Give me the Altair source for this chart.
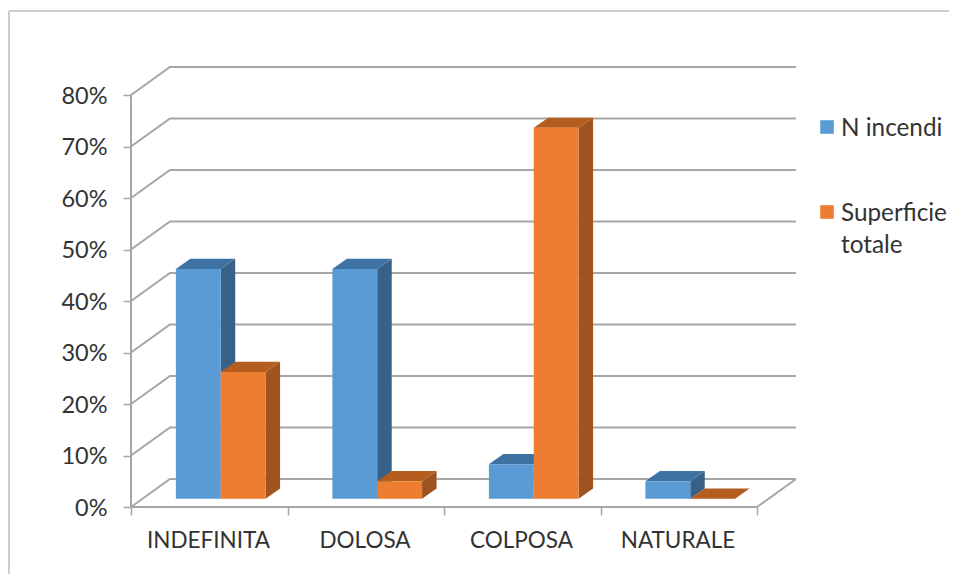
import altair as alt
import pandas as pd

categories = ["INDEFINITA", "DOLOSA", "COLPOSA", "NATURALE"]
series = ["N incendi", "Superficie totale"]
n_incendi = [44.6, 44.6, 6.7, 3.4]
superficie = [24.6, 3.4, 72.0, 0.0]
ticks = [0, 10, 20, 30, 40, 50, 60, 70, 80]

FONT = "Lato"
TXT = "#333333"
GREY = "#A6A6A6"
FRAME = "#BDBDBD"
faces = {
    "N incendi": ("#5B9BD5", "#38618A", "#3E72A3"),
    "Superficie totale": ("#ED7D31", "#9E5320", "#B55D1E"),
}

# oblique projection expressed in data units
WALL_DX, WALL_DY = 0.249, 5.44
BASE_DX, BASE_DY = 0.074, 1.62
BAR_DX, BAR_DY = 0.0927, 1.98
GAP, BAR_W = 0.2127, 0.2865

xs = alt.Scale(domain=[0, 4 + WALL_DX], nice=False, zero=False)
ys = alt.Scale(domain=[0, 80 + WALL_DY], nice=False, zero=False)

# walls
grid = []
g = 0
for t in ticks:
    grid += [dict(x=0, y=t, g=g), dict(x=WALL_DX, y=t + WALL_DY, g=g), dict(x=4 + WALL_DX, y=t + WALL_DY, g=g)]
    g += 1
grid += [dict(x=0, y=0, g=g), dict(x=4, y=0, g=g), dict(x=4 + WALL_DX, y=WALL_DY, g=g)]
g += 1
grid += [dict(x=0, y=0, g=g), dict(x=0, y=80, g=g)]

x_axis = alt.Axis(
    values=[0, 1, 2, 3, 4], title=None, domain=False, grid=False,
    tickColor=GREY, tickSize=8, tickWidth=1.5, labelOffset=77,
    labelExpr="(" + repr(categories + [""]) + ")[datum.value]",
    labelFont=FONT, labelFontSize=22.5, labelColor=TXT, labelPadding=14, labelFlush=False,
)
y_axis = alt.Axis(
    values=ticks, title=None, domain=False, grid=False,
    tickColor=GREY, tickSize=8, tickWidth=1.5,
    labelExpr="datum.value + '%'",
    labelFont=FONT, labelFontSize=23.5, labelColor=TXT, labelPadding=16, labelBaseline="middle", labelOffset=1,
)

layers = [
    alt.Chart(pd.DataFrame(grid)).mark_line(color=GREY, strokeWidth=2).encode(
        x=alt.X("x:Q", scale=xs, axis=x_axis),
        y=alt.Y("y:Q", scale=ys, axis=y_axis),
        detail="g:N",
    )
]

for s_i, (name, vals) in enumerate(zip(series, [n_incendi, superficie])):
    front, side, top = faces[name]
    fr, sd, tp = [], [], []
    for c_i, (cat, v) in enumerate(zip(categories, vals)):
        x0 = c_i + BASE_DX + GAP + s_i * BAR_W
        x1 = x0 + BAR_W
        y0, y1 = BASE_DY, BASE_DY + v
        fr.append(dict(x=x0, x2=x1, y=y0, y2=y1))
        sd += [dict(x=x1, lo=y0, hi=y1, b=cat), dict(x=x1 + BAR_DX, lo=y0 + BAR_DY, hi=y1 + BAR_DY, b=cat)]
        tp += [dict(y=y1, a=x0, c=x1, b=cat), dict(y=y1 + BAR_DY, a=x0 + BAR_DX, c=x1 + BAR_DX, b=cat)]
    layers.append(alt.Chart(pd.DataFrame(sd)).mark_area(color=side).encode(
        x=alt.X("x:Q", scale=xs), y=alt.Y("lo:Q", scale=ys), y2="hi:Q", detail="b:N"))
    layers.append(alt.Chart(pd.DataFrame(tp)).mark_area(color=top, orient="horizontal").encode(
        y=alt.Y("y:Q", scale=ys), x=alt.X("a:Q", scale=xs), x2="c:Q", detail="b:N"))
    layers.append(alt.Chart(pd.DataFrame(fr)).mark_rect(color=front).encode(
        x=alt.X("x:Q", scale=xs), x2="x2:Q", y=alt.Y("y:Q", scale=ys), y2="y2:Q"))

# legend
one = pd.DataFrame({"k": [0]})
legend_rows = [("N incendi", 60, "N incendi", 60), ("Superficie totale", 145, "Superficie\ntotale", 145)]
for name, sy, label, ty in legend_rows:
    layers.append(alt.Chart(one).mark_square(size=185, color=faces[name][0], opacity=1).encode(
        x=alt.value(696), y=alt.value(sy)))
    layers.append(alt.Chart(one).mark_text(
        text=label, lineBreak="\n", lineHeight=32, font=FONT, fontSize=24.3, color=TXT,
        align="left", baseline="top").encode(x=alt.value(710), y=alt.value(ty - 10)))

# outer frame
layers.append(alt.Chart(one).mark_rule(color=FRAME, strokeWidth=1.5).encode(
    x=alt.value(-122), y=alt.value(-56), y2=alt.value(507)))
layers.append(alt.Chart(one).mark_rule(color=FRAME, strokeWidth=1.5).encode(
    x=alt.value(-122), x2=alt.value(818), y=alt.value(-56)))

chart = alt.layer(*layers).properties(
    width=665, height=440,
    autosize=alt.AutoSizeParams(type="none"),
    padding={"left": 123, "top": 59, "right": 153, "bottom": 67},
    background="white",
).configure_view(stroke=None)

chart.save("out.html", embed_options={"renderer": "svg", "actions": False})
